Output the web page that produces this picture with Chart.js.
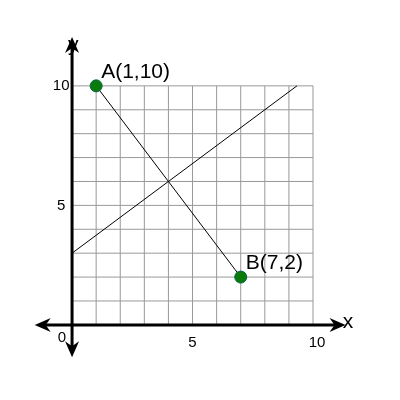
<!DOCTYPE html><html><head><script src="https://cdn.jsdelivr.net/npm/chart.js@4"></script>
<style>html,body{margin:0;background:#fff}#w{width:400px;height:400px}</style></head><body><div id="w"><canvas id="c"></canvas></div>
<script>
const pointsXY=[{x:1,y:10,label:'A(1,10)'},{x:7,y:2,label:'B(7,2)'}];
const bisector=[{x:0,y:3},{x:9.333,y:10}];
const xTicks=[0,5,10], yTicks=[5,10];
const gridMax=10;
const plug={id:'g',beforeDatasetsDraw(ch){const c=ch.ctx,X=ch.scales.x,Y=ch.scales.y;const px=v=>X.getPixelForValue(v),py=v=>Y.getPixelForValue(v);
c.save();c.strokeStyle='#999';c.lineWidth=1;
for(let i=0;i<=gridMax;i++){c.beginPath();c.moveTo(px(i),py(0));c.lineTo(px(i),py(gridMax));c.stroke();c.beginPath();c.moveTo(px(0),py(i));c.lineTo(px(gridMax),py(i));c.stroke();}
c.strokeStyle='#000';c.lineWidth=3;c.fillStyle='#000';
c.beginPath();c.moveTo(px(-1.3),py(0));c.lineTo(px(11),py(0));c.stroke();
c.beginPath();c.moveTo(px(0),py(-1.1));c.lineTo(px(0),py(11.7));c.stroke();
const tri=(a)=>{c.beginPath();a.forEach((p,i)=>i?c.lineTo(p[0],p[1]):c.moveTo(p[0],p[1]));c.closePath();c.fill();};
let x0=px(0),y0=py(0);
tri([[px(11.35),y0],[px(11.35)-16,y0-7],[px(11.35)-11,y0],[px(11.35)-16,y0+7]]);
tri([[px(-1.55),y0],[px(-1.55)+16,y0-7],[px(-1.55)+11,y0],[px(-1.55)+16,y0+7]]);
tri([[x0,py(12.05)],[x0-7,py(12.05)+16],[x0,py(12.05)+11],[x0+7,py(12.05)+16]]);
tri([[x0,py(-1.35)],[x0-7,py(-1.35)-16],[x0,py(-1.35)-11],[x0+7,py(-1.35)-16]]);
c.font='15px "Liberation Sans", Arial';c.textAlign='center';c.textBaseline='middle';
xTicks.forEach(t=>c.fillText(String(t),t===0?px(-0.42):px(t)+(t===10?4:0),t===0?py(-0.55):py(-0.75)));
yTicks.forEach(t=>c.fillText(String(t),px(-0.45),py(t)));
c.font='21px "Liberation Sans", Arial';c.fillText('x',px(11.45),py(0.1));c.fillText('y',px(0.05),py(11.7));
c.restore();},
afterDatasetsDraw(ch){const c=ch.ctx,X=ch.scales.x,Y=ch.scales.y;c.save();c.font='21px "Liberation Sans", Arial';c.textBaseline='middle';c.fillStyle='#000';
pointsXY.forEach(p=>c.fillText(p.label,X.getPixelForValue(p.x)+5,Y.getPixelForValue(p.y)-14));c.restore();}};
new Chart(document.getElementById('c'),{type:'scatter',data:{datasets:[
{data:pointsXY.map(p=>({x:p.x,y:p.y})),showLine:true,borderColor:'#000',borderWidth:1,pointRadius:6,pointBackgroundColor:'#0a7a0a',pointBorderColor:'#064',pointBorderWidth:1},
{data:bisector,showLine:true,borderColor:'#000',borderWidth:1,pointRadius:0}]},
options:{responsive:true,maintainAspectRatio:false,animation:false,layout:{padding:0},
plugins:{legend:{display:false},tooltip:{enabled:false}},
scales:{x:{type:'linear',display:false,min:-2.70,max:13.32},y:{type:'linear',display:false,min:-2.85,max:13.3}}},plugins:[plug]});
</script></body></html>
